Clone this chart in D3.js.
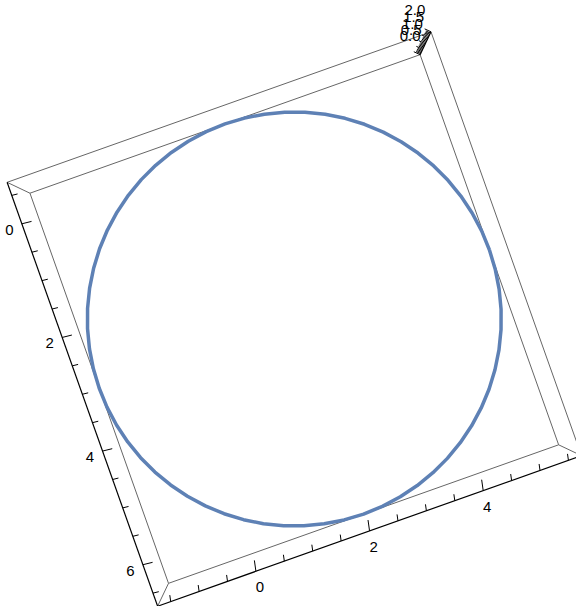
<!DOCTYPE html>
<html>
<head>
<meta charset="utf-8">
<script src="https://cdn.jsdelivr.net/npm/d3@7"></script>
<style>
  html, body { margin: 0; padding: 0; background: #fff; overflow: hidden; }
  text { font-family: "Liberation Sans", Arial, sans-serif; font-size: 15px; fill: #000; }
</style>
</head>
<body>
<svg id="chart" width="576" height="606"></svg>
<script>
// Plot range of the bounding box
const xRange = [-1.73, 5.73];
const yRange = [-0.73, 6.73];
const zRange = [0, 2];

// Tick values and labels
const xMajorTicks = [0, 2, 4];
const yMajorTicks = [0, 2, 4, 6];
const zMajorTicks = [0, 0.5, 1, 1.5, 2];
const zTickLabels = ["0.0", "0.5", "1.0", "1.5", "2.0"];
const xyMinorStep = 0.5;
const zMinorStep = 0.1;

// The curve: a circle in the plane z = 0
const circleCenter = [2, 3];
const circleRadius = 3.73;
const circleZ = 0;
const curveSamples = 64;

const svg = d3.select("#chart");

// View: box seen straight down its z axis, rotated, with perspective
const screenCenter = [294.3, 319];
const rot = -19.55 * Math.PI / 180;
const xDir = [Math.cos(rot), Math.sin(rot)];
const yDir = [-Math.sin(rot), Math.cos(rot)];
const farHalf = 207;     // half side of face z = zRange[0], px
const nearHalf = 224.9;  // half side of face z = zRange[1], px
const zSpan = zRange[1] - zRange[0];
const camDist = zSpan * nearHalf / (nearHalf - farHalf);
const focal = farHalf * camDist;

const xs = d3.scaleLinear().domain(xRange).range([-1, 1]);
const ys = d3.scaleLinear().domain(yRange).range([-1, 1]);
const zs = d3.scaleLinear().domain(zRange).range([0, zSpan]);

function project(x, y, z) {
  const u = xs(x), v = ys(y);
  const h = focal / (camDist - zs(z));
  return [
    screenCenter[0] + h * (u * xDir[0] + v * yDir[0]),
    screenCenter[1] + h * (u * xDir[1] + v * yDir[1])
  ];
}

const line = d3.line();
const [x0, x1] = xRange, [y0, y1] = yRange, [z0, z1] = zRange;

function edge(a, b, stroke, width) {
  svg.append("path")
    .attr("d", line([project(...a), project(...b)]))
    .attr("fill", "none")
    .attr("stroke", stroke)
    .attr("stroke-width", width);
}

// Box edges
const gray = "#666", black = "#000";
// far face
edge([x0, y0, z0], [x1, y0, z0], gray, 1);
edge([x1, y0, z0], [x1, y1, z0], gray, 1);
edge([x1, y1, z0], [x0, y1, z0], gray, 1);
edge([x0, y1, z0], [x0, y0, z0], gray, 1);
// near face
edge([x0, y0, z1], [x1, y0, z1], gray, 1);
edge([x1, y0, z1], [x1, y1, z1], gray, 1);
// connecting edges
edge([x0, y0, z0], [x0, y0, z1], gray, 1);
edge([x0, y1, z0], [x0, y1, z1], gray, 1);
edge([x1, y1, z0], [x1, y1, z1], gray, 1);
// axes
edge([x0, y0, z1], [x0, y1, z1], black, 1.2);  // y axis
edge([x0, y1, z1], [x1, y1, z1], black, 1.2);  // x axis
edge([x1, y0, z0], [x1, y0, z1], black, 1.2);  // z axis

function tick(p, dir, len) {
  svg.append("path")
    .attr("d", line([p, [p[0] + dir[0] * len, p[1] + dir[1] * len]]))
    .attr("stroke", black)
    .attr("stroke-width", 1);
}
function isMajor(v, majors) { return majors.some(m => Math.abs(m - v) < 1e-6); }

// x axis ticks
const xTickDir = [-0.14, -0.99];
d3.range(Math.ceil(x0 / xyMinorStep) * xyMinorStep, x1 + 1e-9, xyMinorStep).forEach(v => {
  tick(project(v, y1, z1), xTickDir, isMajor(v, xMajorTicks) ? 11 : 6.5);
});
xMajorTicks.forEach(v => {
  const p = project(v, y1, z1);
  svg.append("text").attr("x", p[0] + 4).attr("y", p[1] + 15.5)
    .attr("text-anchor", "middle").attr("dominant-baseline", "central").text(v);
});

// y axis ticks
const yTickDir = [0.97, -0.24];
d3.range(Math.ceil(y0 / xyMinorStep) * xyMinorStep, y1 + 1e-9, xyMinorStep).forEach(v => {
  tick(project(x0, v, z1), yTickDir, isMajor(v, yMajorTicks) ? 10 : 6);
});
yMajorTicks.forEach(v => {
  const p = project(x0, v, z1);
  svg.append("text").attr("x", p[0] - 12.5).attr("y", p[1] + 5.5)
    .attr("text-anchor", "middle").attr("dominant-baseline", "central").text(v);
});

// z axis ticks (strongly foreshortened, so they pile up)
const zTickDir = [-0.9, -0.42];
d3.range(z0, z1 + 1e-9, zMinorStep).forEach(v => {
  tick(project(x1, y0, v), zTickDir, isMajor(v, zMajorTicks) ? 7 : 5);
});
zMajorTicks.forEach((v, i) => {
  const p = project(x1, y0, v);
  const t = (v - z0) / zSpan;
  const dx = -10 + (-6) * t, dy = -19 + (-3) * t;
  svg.append("text").attr("x", p[0] + dx).attr("y", p[1] + dy)
    .attr("text-anchor", "middle").attr("dominant-baseline", "central").text(zTickLabels[i]);
});

// The curve
const tValues = d3.range(curveSamples + 1).map(i => 2 * Math.PI * i / curveSamples);
const curvePts = tValues.map(t => project(
  circleCenter[0] + circleRadius * Math.cos(t),
  circleCenter[1] + circleRadius * Math.sin(t),
  circleZ));
svg.append("path")
  .attr("d", line(curvePts))
  .attr("fill", "none")
  .attr("stroke", "#5E81B5")
  .attr("stroke-width", 3.5)
  .attr("stroke-linejoin", "round");
</script>
</body>
</html>
